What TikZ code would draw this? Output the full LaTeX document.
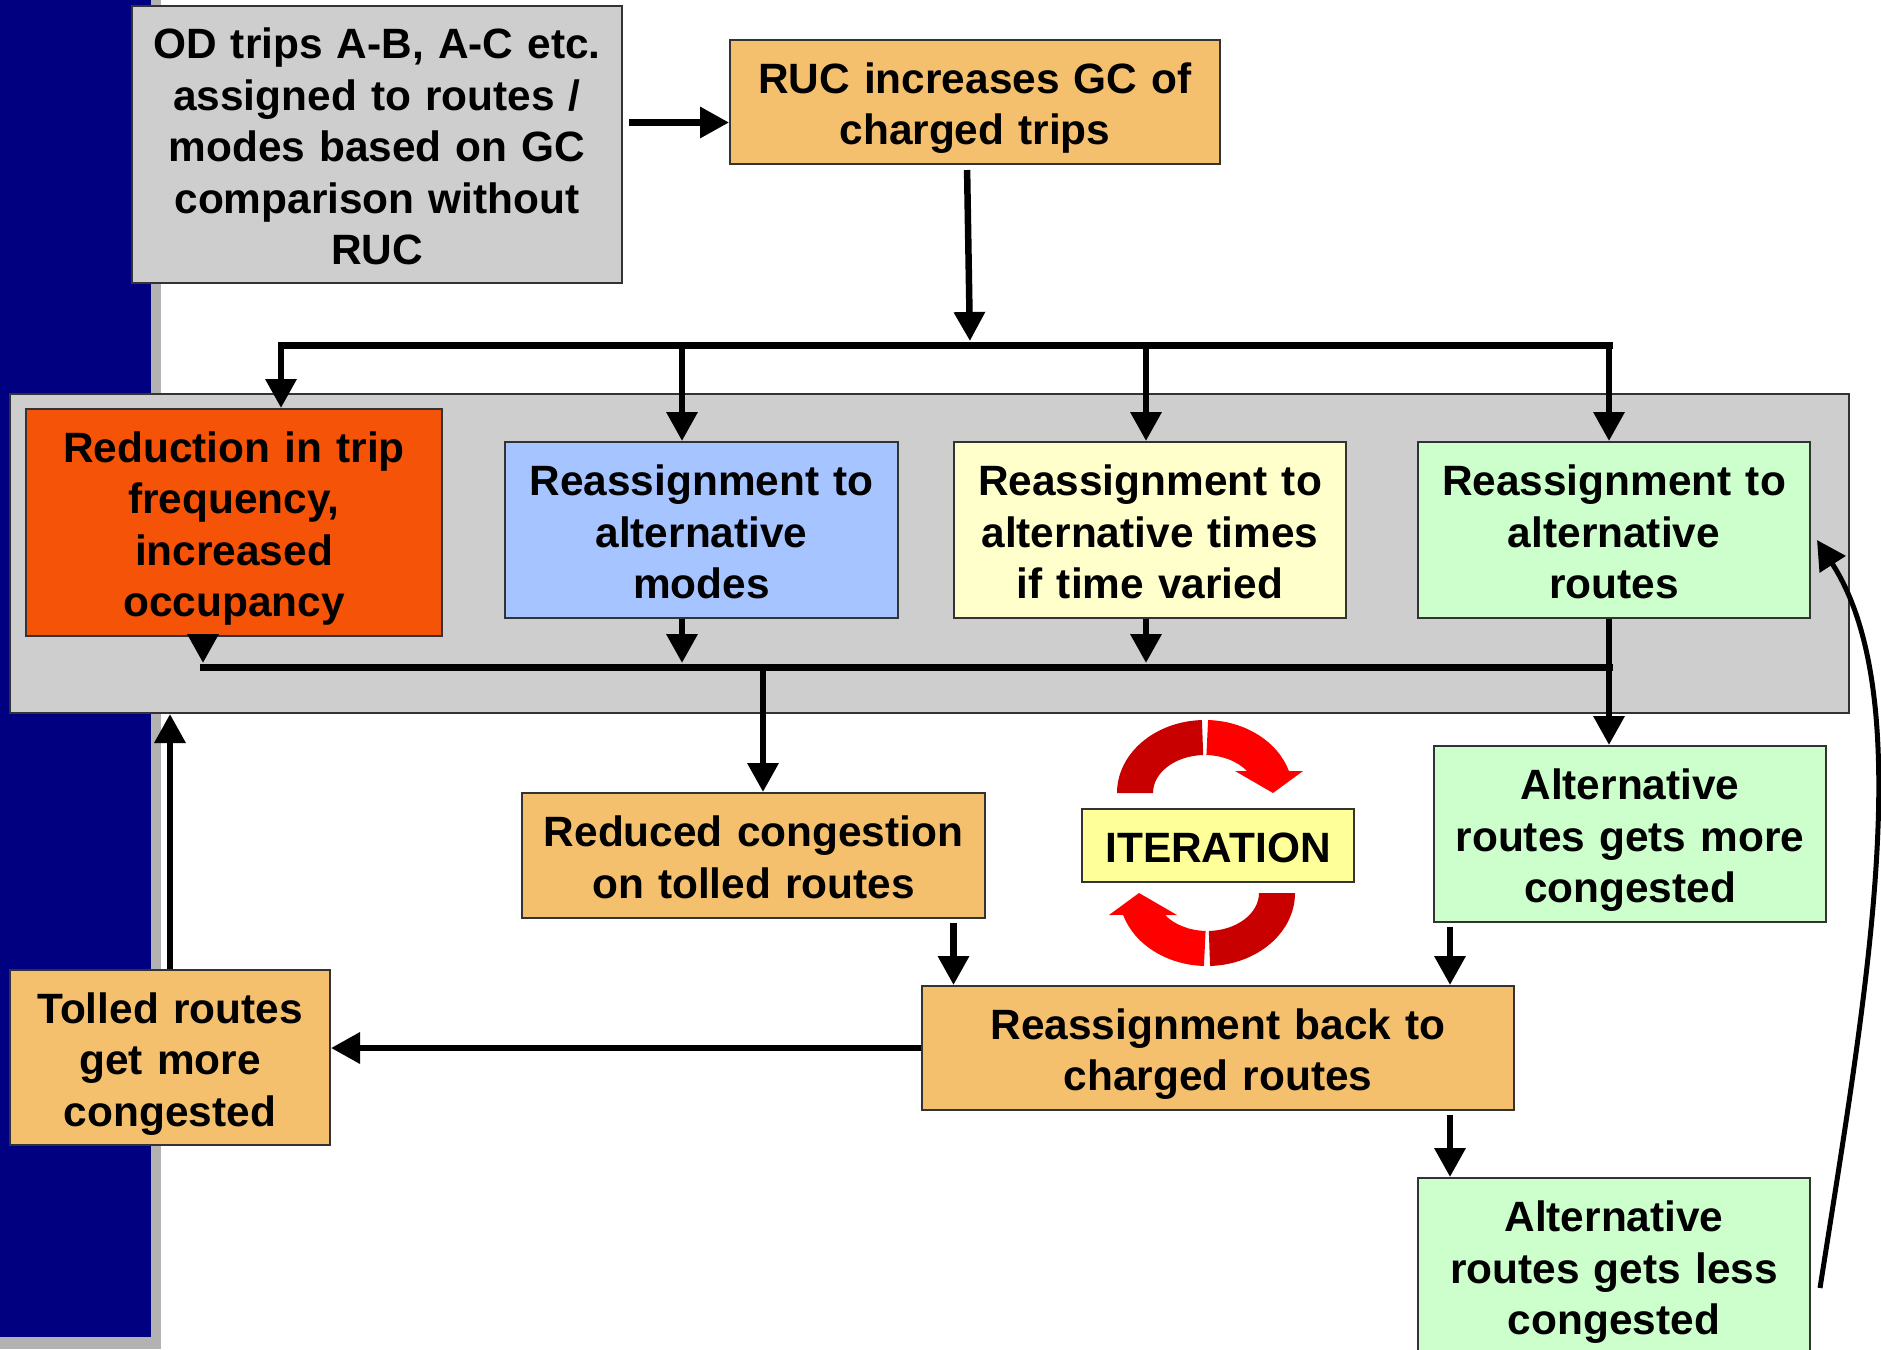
\documentclass[tikz,border=0pt]{standalone}
\usepackage{fontspec}
\setmainfont{Liberation Sans}
\usepackage{tikz}
\usetikzlibrary{arrows.meta, calc}
\definecolor{NavyBar}{RGB}{0, 0, 128}
\definecolor{ShadowGray}{RGB}{178, 178, 178}
\definecolor{PanelGray}{RGB}{206, 206, 206}
\definecolor{TanOrange}{RGB}{245, 192, 110}
\definecolor{DeepOrange}{RGB}{245, 83, 8}
\definecolor{SoftBlue}{RGB}{166, 196, 255}
\definecolor{PaleYellow}{RGB}{255, 255, 204}
\definecolor{PaleGreen}{RGB}{204, 255, 204}
\definecolor{IterYellow}{RGB}{255, 255, 153}
\definecolor{LoopRed}{RGB}{255, 0, 0}
\definecolor{LoopDarkRed}{RGB}{200, 0, 0}

\begin{document}
\begin{tikzpicture}[x=1pt, y=-1pt,
      box/.style={rectangle, draw=black!80, line width=2pt, align=center, inner sep=0pt,
      font=\fontsize{42.4}{51.5}\selectfont\bfseries,
      execute at begin node={\rule{0pt}{44pt}}, execute at end node={\rule[-10pt]{0pt}{10pt}}},
      boxsize/.style 2 args={minimum width=#1pt, minimum height=#2pt, text width=#1pt-20pt},
      card/.style={box, fill=PaleGreen, boxsize={392}{176}},
      arr/.style={line width=6.5pt, -{Triangle[length=29pt, width=30pt]}},
      bus/.style={line width=7pt, line cap=rect}
    ]
      \useasboundingbox (0,0) rectangle (1881,1349);
      \fill[ShadowGray] (0,0) rectangle (161,1349);
      \fill[NavyBar] (0,0) rectangle (151,1337);

      \node[box, fill=PanelGray, boxsize={1839}{319}] (panel) at (929.5,553.5) {};
      \node[box, fill=PanelGray, boxsize={490}{277}] (od) at (377,144.5)
        {OD trips A-B, A-C etc.\\assigned to routes /\\modes based on GC\\comparison without\\RUC};
      \node[box, fill=TanOrange, boxsize={490}{124}] (ruc) at (975,102)
        {RUC increases GC of\\charged trips};
      \node[box, fill=DeepOrange, boxsize={416}{227}] (freq) at (234,522.5)
        {Reduction in trip\\frequency,\\increased\\occupancy};
      \node[box, fill=SoftBlue, boxsize={393}{176}] (modes) at (701.5,530)
        {Reassignment to\\alternative\\modes};
      \node[box, fill=PaleYellow, boxsize={392}{176}] (times) at (1150,530)
        {Reassignment to\\alternative times\\if time varied};
      \node[card] (routes) at (1614,530) {Reassignment to\\alternative\\routes};
      \node[box, fill=TanOrange, boxsize={463}{125}] (reduced) at (753.5,855.5)
        {Reduced congestion\\on tolled routes};
      \node[box, fill=IterYellow, boxsize={272}{73}] (iter) at (1218,845.5) {ITERATION};
      \node[card] (more) at (1630,834) {Alternative\\routes gets more\\congested};
      \node[box, fill=TanOrange, boxsize={592}{124}] (back) at (1218,1048)
        {Reassignment back to\\charged routes};
      \node[box, fill=TanOrange, boxsize={320}{175}] (tolled) at (170,1057.5)
        {Tolled routes\\get more\\congested};
      \node[card] (less) at (1614,1266) {Alternative\\routes gets less\\congested};

      \coordinate (d0) at (970,345);
      \coordinate (d1) at (281,345);
      \coordinate (d2) at (682,345);
      \coordinate (d3) at (1146,345);
      \coordinate (d4) at (1609,345);
      \coordinate (e1) at (203,667);
      \coordinate (e2) at (682,667);
      \coordinate (e3) at (1146,667);
      \coordinate (e4) at (1609,667);
      \coordinate (e5) at (763,667);

      \draw[arr, shorten <=6pt] ([yshift=22pt]od.east) coordinate (o1) -- (o1 -| ruc.west);
      \draw[arr, shorten <=5pt, shorten >=4pt] ([xshift=-8pt]ruc.south) -- (d0);
      \draw[bus] (d1) -- (d4);
      \foreach \d/\b in {d1/freq, d2/modes, d3/times, d4/routes}
        \draw[arr] (\d) -- (\d |- \b.north);
      \foreach \e/\b in {e1/freq, e2/modes, e3/times}
        \draw[arr, shorten >=4pt] (\e |- \b.south) -- (\e);
      \draw[bus] (e1) -- (e4);
      \draw[arr] (e4 |- routes.south) -- (e4 |- more.north);
      \draw[arr, shorten <=4pt] (e5) -- (e5 |- reduced.north);
      \draw[arr, shorten <=4pt] ([xshift=200pt]reduced.south) coordinate (r1) -- (r1 |- back.north);
      \draw[arr, shorten <=4pt] ([xshift=-180pt]more.south) coordinate (m1) -- (m1 |- back.north);
      \draw[arr] (back.west) -- (back.west -| tolled.east);
      \draw[arr] (tolled.north) -- (tolled.north |- panel.south);
      \draw[arr, shorten <=4pt] ([xshift=232pt]back.south) coordinate (k1) -- (k1 |- less.north);
      \draw[arr, line width=5pt] ([xshift=9pt, yshift=-22pt]less.east)
        .. controls (1865,1000) and (1920,700) .. ([xshift=6pt, yshift=-10pt]routes.east);

      \foreach \r in {0,180}
      {
        \begin{scope}[rotate around={\r:(1206,843)}]
          \fill[LoopDarkRed] (1117,793) arc[start angle=180, end angle=268, x radius=88, y radius=73]
            -- ($(1205,793)+(268:52 and 38)$) arc[start angle=268, end angle=180, x radius=52, y radius=38] -- cycle;
          \fill[LoopRed] ($(1205,793)+(272:88 and 73)$) arc[start angle=272, end angle=342.5, x radius=88, y radius=73]
            -- (1303,771) -- (1273,793) -- (1235,771) -- (1247,771)
            arc[start angle=324.6, end angle=272, x radius=52, y radius=38] -- cycle;
        \end{scope}
      }
    \end{tikzpicture}
\end{document}
